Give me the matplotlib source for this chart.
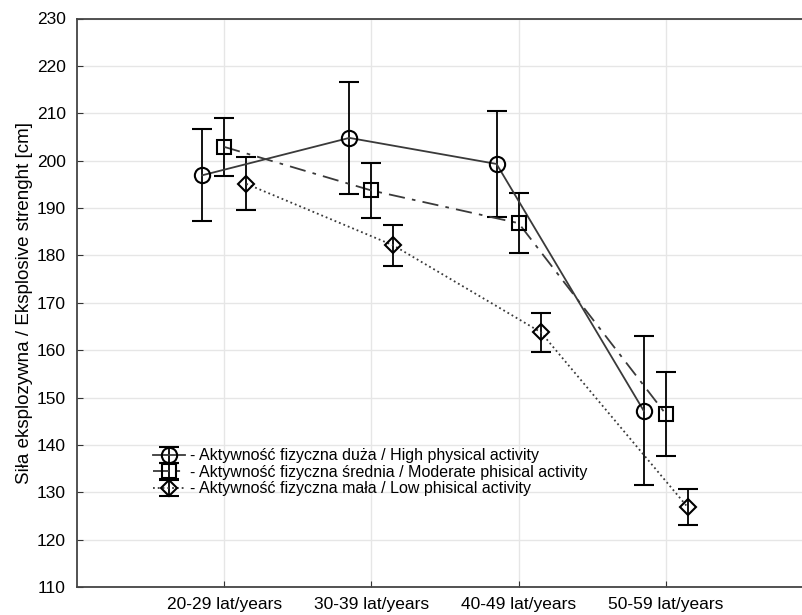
import numpy as np
import matplotlib
matplotlib.use("Agg")
import matplotlib.pyplot as plt

plt.rcParams['font.family'] = ['Liberation Sans', 'DejaVu Sans']

groups = ['20-29 lat/years', '30-39 lat/years', '40-49 lat/years', '50-59 lat/years']

high_mean = [196.9, 204.8, 199.3, 147.2]
high_err = [9.7, 11.9, 11.1, 15.7]
mid_mean = [202.9, 193.7, 186.8, 146.5]
mid_err = [6.1, 5.9, 6.3, 8.9]
low_mean = [195.1, 182.1, 163.8, 126.8]
low_err = [5.6, 4.4, 4.1, 3.8]

labels = ['- Aktywność fizyczna duża / High physical activity',
          '- Aktywność fizyczna średnia / Moderate phisical activity',
          '- Aktywność fizyczna mała / Low phisical activity']

fig = plt.figure(figsize=(8.03, 6.15), dpi=100)
ax = fig.add_axes([77/803, 28/615, 736/803, 568.5/615])

x = np.arange(1, len(groups) + 1)
series = [
    (high_mean, high_err, 'o', '-', -0.15),
    (mid_mean, mid_err, 's', (0, (9, 4, 2, 4)), 0.0),
    (low_mean, low_err, 'D', ':', 0.15),
]
msizes = {'o': 11, 's': 10, 'D': 8}
for (m, e, mk, ls, off), lab in zip(series, labels):
    ax.errorbar(x + off, m, yerr=e, fmt=mk, linestyle=ls, color='#3a3a3a',
                ecolor='black', elinewidth=1.3, capsize=7, capthick=1.3,
                markersize=msizes[mk], markerfacecolor='none',
                markeredgecolor='black', markeredgewidth=1.5, lw=1.3,
                label=lab)

ax.set_xlim(0, 5)
ax.set_ylim(110, 230)
ax.set_yticks(np.arange(110, 231, 10))
ax.set_xticks(x)
ax.set_xticklabels(groups)
ax.tick_params(axis='both', direction='in', labelsize=12.5, length=4, color='#333333')
ax.tick_params(axis='y', pad=8)
ax.tick_params(axis='x', pad=7)
ax.grid(True, color='#e6e6e6', lw=1)
ax.set_axisbelow(True)
for s in ax.spines.values():
    s.set_color('#444444')
    s.set_linewidth(1.3)
ax.set_ylabel('Siła eksplozywna / Eksplosive strenght [cm]', fontsize=13.5, labelpad=3)

ax.legend(loc='lower left', bbox_to_anchor=(0.095, 0.148), frameon=False,
          fontsize=11.5, handlelength=2, handletextpad=0.3, labelspacing=0.1,
          borderaxespad=0)

fig.savefig('out.png', dpi=100)
